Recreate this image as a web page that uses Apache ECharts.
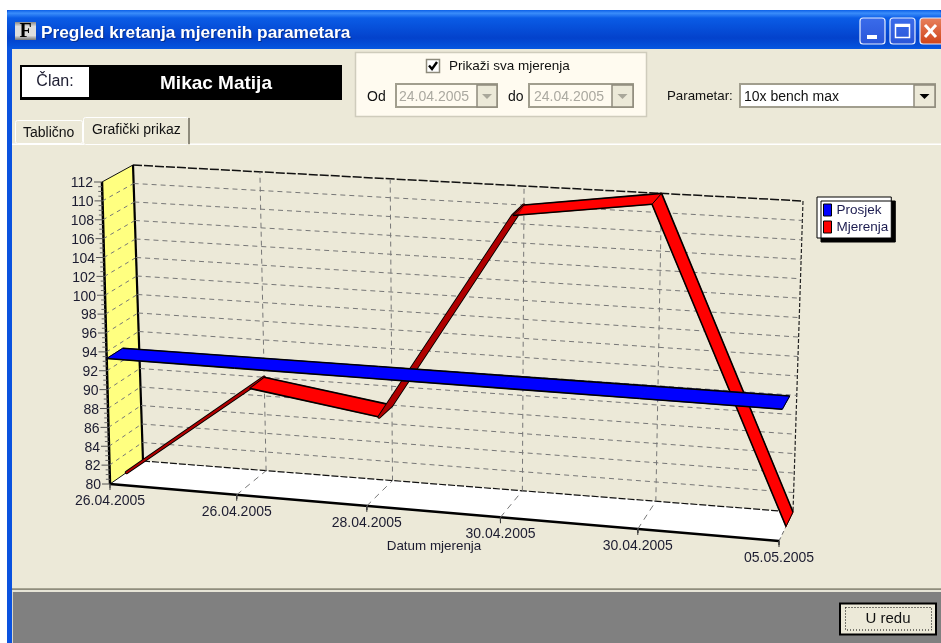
<!DOCTYPE html>
<html>
<head>
<meta charset="utf-8">
<style>
  html, body { margin: 0; padding: 0; background: #fff; }
  #chart { width: 941px; height: 643px; }
</style>
<script src="https://cdn.jsdelivr.net/npm/echarts@6/dist/echarts.min.js"></script>
</head>
<body>
<div id="chart"></div>
<script>
// podaci ocitani sa slike
var dates = ['26.04.2005', '26.04.2005', '28.04.2005', '30.04.2005', '30.04.2005', '05.05.2005'];
var measured = [80, 90, 88, 110, 112, 80];
var average = [93.3, 93.3, 93.3, 93.3, 93.3, 93.3];
var valueTicks = [80, 82, 84, 86, 88, 90, 92, 94, 96, 98, 100, 102, 104, 106, 108, 110, 112];
var backValueLines = [82, 84, 86, 88, 90, 92, 94, 96, 98, 100, 102, 104, 106, 108, 110];
var innerDates = [1, 2, 3, 4];
var minorTicks = [0.25, 0.5, 0.75];

var FONT = '"Liberation Sans", Arial, sans-serif';
var FACE = '#ECE9D8';

// uglovi kocke na ekranu (front/back, bottom/top, left/right)
var corners = {
	fbl: [110, 484], ftl: [102, 182], fbr: [779, 541], ftr: [787, 224],
	bbl: [143, 461], btl: [133, 165], bbr: [793, 512], btr: [803, 201]
};

function lerp(a, b, t) {
	return [a[0] + (b[0] - a[0]) * t, a[1] + (b[1] - a[1]) * t];
}

// u,v,w: 0..1 - sirina, visina, dubina
function project(u, v, w) {
	var s = u / (u + 1.07 * (1 - u)); // malo perspektive po x
	var front = lerp(lerp(corners.fbl, corners.fbr, s), lerp(corners.ftl, corners.ftr, s), v);
	var back = lerp(lerp(corners.bbl, corners.bbr, s), lerp(corners.btl, corners.btr, s), v);
	return lerp(front, back, w);
}

// vrijednost -> piksel kroz osi grida -> projekcija
function proj3(params, api, x, y, w) {
	var p = api.coord([x, y]);
	var cs = params.coordSys;
	return project((p[0] - cs.x) / cs.width, (cs.y + cs.height - p[1]) / cs.height, w);
}

function line(a, b, color, width, dash, z2) {
	return {
		type: 'line',
		z2: z2 || 0,
		shape: { x1: a[0], y1: a[1], x2: b[0], y2: b[1] },
		style: { stroke: color, lineWidth: width, lineDash: dash || null }
	};
}

function label(text, x, y, align, size) {
	return {
		type: 'text',
		z2: 5,
		style: { text: text, x: x, y: y, fill: '#1c1c30', font: (size || 14) + 'px ' + FONT, align: align, verticalAlign: 'middle' }
	};
}

function renderWalls(params, api) {
	var last = dates.length - 1, lo = valueTicks[0], hi = valueTicks[valueTicks.length - 1];
	var fbl = proj3(params, api, 0, lo, 0), ftl = proj3(params, api, 0, hi, 0);
	var bbl = proj3(params, api, 0, lo, 1), btl = proj3(params, api, 0, hi, 1);
	var fbr = proj3(params, api, last, lo, 0);
	var bbr = proj3(params, api, last, lo, 1), btr = proj3(params, api, last, hi, 1);
	return {
		type: 'group',
		children: [
			{ type: 'polygon', shape: { points: [ftl, btl, bbl, fbl] }, style: { fill: '#FFFF80' } },
			{ type: 'polygon', shape: { points: [fbl, bbl, bbr, fbr] }, style: { fill: '#FFFFFF' } },
			line(btl, btr, '#111', 1.5, [9, 2], 3),
			line(btr, bbr, '#222', 1.2, [4, 2], 3),
			line(bbl, bbr, '#111', 1.2, [7, 2], 3),
			line(fbr, bbr, '#666', 1, [4, 3], 3),
			line(ftl, btl, '#111', 1, null, 3),
			line(fbl, bbl, '#111', 1, null, 3),
			line(btl, bbl, '#000', 2.2, null, 4),
			line(ftl, fbl, '#000', 2.5, null, 4),
			line(fbl, fbr, '#000', 2.5, null, 4),
			label('Datum mjerenja', 434, 546, 'center', 13.4)
		]
	};
}

// vodoravne linije po zidovima + oznake na osi y
function renderValueTick(params, api) {
	var val = api.value(0), last = dates.length - 1;
	var f = proj3(params, api, 0, val, 0);
	var b = proj3(params, api, 0, val, 1);
	var r = proj3(params, api, last, val, 1);
	var kids = [
		line([f[0] - 8, f[1]], f, '#555', 1, null, 4),
		label(String(val), f[0] - 9, f[1] + 1.5, 'right', 14)
	];
	if (val < 112) {
		minorTicks.forEach(function (m) {
			var t = proj3(params, api, 0, val + m * 2, 0);
			kids.push(line([t[0] - 4, t[1]], t, '#666', 1, null, 4));
		});
	}
	if (backValueLines.indexOf(val) >= 0) {
		kids.push(line(f, b, '#777', 1, [4, 4], 2));
		kids.push(line(b, r, '#777', 1, [5, 4], 2));
	}
	return { type: 'group', children: kids };
}

// okomite linije, pod + oznake na osi x
function renderDateTick(params, api) {
	var i = api.value(0), lo = valueTicks[0], hi = valueTicks[valueTicks.length - 1];
	var f = proj3(params, api, i, lo, 0);
	var b = proj3(params, api, i, lo, 1);
	var t = proj3(params, api, i, hi, 1);
	var kids = [
		line(f, [f[0], f[1] + 6], '#333', 1, null, 4),
		label(dates[i], f[0], f[1] + 17, 'center', 14)
	];
	if (i < dates.length - 1) {
		minorTicks.forEach(function (m) {
			var p = proj3(params, api, i + m, lo, 0);
			kids.push(line(p, [p[0], p[1] + 4], '#444', 1, null, 4));
		});
	}
	if (innerDates.indexOf(i) >= 0) {
		kids.push(line(b, t, '#777', 1, [5, 4], 2));
		kids.push(line(f, b, '#777', 1, [6, 5], 2));
	}
	return { type: 'group', children: kids };
}

function ribbon(values, w0, w1, fill, darkFill) {
	return function (params, api) {
		var i = api.value(0);
		if (i === 0) return { type: 'group', children: [] };
		var a = values[i - 1], b = values[i];
		var p0 = proj3(params, api, i - 1, a, w0), p1 = proj3(params, api, i, b, w0);
		var q1 = proj3(params, api, i, b, w1), q0 = proj3(params, api, i - 1, a, w1);
		var pts = [p0, p1, q1, q0];
		var kids;
		if (b - a > 5) {
			// strmi dio se vidi odozdo, tamniji i tanak
			kids = [
				{ type: 'polygon', z2: 10, shape: { points: pts }, style: { fill: '#000', stroke: '#000', lineWidth: 3.4, lineJoin: 'round' } },
				{ type: 'polygon', z2: 11, shape: { points: pts }, style: { fill: darkFill, stroke: darkFill, lineWidth: 1.6, lineJoin: 'round' } }
			];
		} else {
			// stroke iste boje da se ne vide spojevi izmedu segmenata
			kids = [
				{ type: 'polygon', z2: 10, shape: { points: pts }, style: { fill: fill, stroke: fill, lineWidth: 1 } },
				line(p0, p1, '#000', 1.6, null, 11),
				line(q0, q1, '#000', 1.6, null, 11)
			];
			if (a !== b) kids.push(line(p0, q0, '#000', 1, null, 11));
		}
		if (i === 1 && a === b) kids.push(line(p0, q0, '#000', 1, null, 11));
		if (i === values.length - 1) kids.push(line(p1, q1, '#000', 1, null, 11));
		return { type: 'group', children: kids };
	};
}

// prozor oko grafa
function rect(x, y, w, h, fill, stroke, lw, r) {
	return {
		type: 'rect',
		shape: { x: x, y: y, width: w, height: h, r: r || 0 },
		style: { fill: fill, stroke: stroke || null, lineWidth: lw || 0 },
		silent: true
	};
}

function txt(text, x, y, size, fill, weight, align, family) {
	return {
		type: 'text',
		silent: true,
		style: {
			text: text, x: x, y: y, fill: fill,
			font: (weight || 'normal') + ' ' + size + 'px ' + (family || FONT),
			align: align || 'left', verticalAlign: 'middle'
		}
	};
}

function grad(stops) {
	return { type: 'linear', x: 0, y: 0, x2: 0, y2: 1, colorStops: stops.map(function (s) { return { offset: s[0], color: s[1] }; }) };
}

function sunken(x, y, w, h, fill) {
	return [
		rect(x + 1, y + 1, w - 2, h - 2, fill, '#A19E8E', 2)
	];
}

function comboButton(x, y, w, h, arrow) {
	return [
		rect(x, y, w, h, FACE, '#8E8B7C', 1.5),
		{ type: 'polygon', silent: true, shape: { points: [[x + w / 2 - 5, y + h / 2 - 2], [x + w / 2 + 5, y + h / 2 - 2], [x + w / 2, y + h / 2 + 3]] }, style: { fill: arrow } }
	];
}

function winButton(x, w, fill) {
	return rect(x, 18, w, 26, fill, '#E6EEFF', 1.2, 3);
}

var chrome = [
	rect(0, 0, 941, 643, '#FFFFFF'),
	rect(7, 10, 934, 633, '#0A52DF'),
	rect(7, 10, 934, 40, grad([[0, '#0B5FE8'], [0.08, '#3A8DFA'], [0.2, '#0A5CE6'], [0.7, '#0342CC'], [0.9, '#0450DA'], [1, '#0A5AE2']]), null, 0, 4),
	rect(12, 49, 929, 594, FACE),
	rect(12, 588, 929, 1, '#A6A492'),
	rect(12, 589, 929, 1, '#8F8D7D'),
	rect(12, 590, 929, 2, '#E6E4D6'),
	rect(13, 592, 928, 51, '#808080'),
	rect(12, 592, 1, 51, '#D9D7CA'),

	// title bar
	rect(15, 22, 21, 18, grad([[0, '#888'], [0.25, '#ddd'], [0.75, '#ddd'], [1, '#777']])),
	txt('F', 25.5, 31.5, 20, '#000', 'bold', 'center', '"Liberation Serif", serif'),
	txt('Pregled kretanja mjerenih parametara', 42, 34, 17.3, '#06308f', 'bold'),
	txt('Pregled kretanja mjerenih parametara', 41, 33, 17.3, '#FFFFFF', 'bold'),
	winButton(860, 25, grad([[0, '#3A6CEB'], [1, '#2A55D8']])),
	rect(867, 35, 10, 4, '#FFFFFF'),
	winButton(890, 25, grad([[0, '#3A6CEB'], [1, '#2A55D8']])),
	rect(895.5, 24.5, 14, 13, null, '#FFFFFF', 1.5),
	rect(895, 24, 15, 3, '#FFFFFF'),
	winButton(920, 26, grad([[0, '#E8825F'], [1, '#CF4318']])),
	line([925, 25], [936, 37], '#FFFFFF', 3),
	line([936, 25], [925, 37], '#FFFFFF', 3),

	// clan
	rect(20, 65, 322, 35, '#000000'),
	rect(22, 67, 67, 30, '#FFFFFF'),
	txt('Član:', 55, 82, 16, '#1c1c30', 'normal', 'center'),
	txt('Mikac Matija', 216, 83.5, 19, '#FFFFFF', 'bold', 'center'),

	// panel s datumima
	rect(355.5, 52.5, 291, 64, '#FFFBF0', '#CFCCBC', 1.5),
	rect(426.5, 59.5, 13, 13, '#FFFFFF', '#8E8B7C', 1.5),
	{ type: 'polyline', silent: true, shape: { points: [[429, 65.5], [432, 69], [437, 62]] }, style: { stroke: '#000', lineWidth: 2.4, fill: null } },
	txt('Prikaži sva mjerenja', 449, 66, 13.5, '#111'),
	txt('Od', 367, 97, 14, '#111')
].concat(
	sunken(395, 83, 103, 25, '#FFFBF0'),
	[txt('24.04.2005', 399, 97, 14, '#ABA9A0')],
	comboButton(477, 85, 20, 22, '#A9A79A'),
	[txt('do', 508, 97, 14, '#111')],
	sunken(528, 83, 106, 25, '#FFFBF0'),
	[txt('24.04.2005', 534, 97, 14, '#ABA9A0')],
	comboButton(612, 85, 21, 22, '#A9A79A'),
	[txt('Parametar:', 667, 96, 13.3, '#111')],
	sunken(739, 83, 197, 25, '#FFFFFF'),
	[txt('10x bench max', 744, 97, 14, '#111')],
	comboButton(914, 85, 21, 22, '#000'),
	[
		// tabovi
		rect(190, 143.5, 751, 1.5, '#FFFFFF'),
		rect(12, 143.5, 72, 1.5, '#FFFFFF'),
		rect(15.5, 120.5, 67, 23, FACE, '#FFFFFF', 1, 2),
		rect(83.5, 117.5, 105, 27, FACE, '#FFFFFF', 1, 2),
		rect(188, 118, 2, 26, '#8E8B7C'),
		txt('Tablično', 23, 133, 14, '#111'),
		txt('Grafički prikaz', 92, 130, 14, '#111'),

		// dugme
		rect(840, 603.5, 96, 31, FACE, '#000', 2),
		rect(845.5, 607.5, 86, 22.5, null, '#000', 1),
		txt('U redu', 888, 618.5, 15, '#111', 'normal', 'center')
	]
);
chrome[chrome.length - 2].style.lineDash = [1, 2];

var myChart = echarts.init(document.getElementById('chart'), null, { renderer: 'canvas' });
var idx = dates.map(function (d, i) { return [i]; });

var option = {
	animation: false,
	graphic: { elements: chrome.map(function (el) { el.z = -10; el.zlevel = 0; return el; }) },
	grid: { left: 100, top: 180, width: 700, height: 300, show: false },
	xAxis: { type: 'category', data: dates, boundaryGap: false, show: false },
	yAxis: { type: 'value', min: 80, max: 112, interval: 2, show: false },
	legend: {
		data: ['Prosjek', 'Mjerenja'],
		left: 817,
		top: 197,
		orient: 'vertical',
		padding: [6, 3, 4, 6],
		itemGap: 3,
		itemWidth: 8,
		itemHeight: 12,
		icon: 'rect',
		backgroundColor: '#FFFFFF',
		borderColor: '#000',
		borderWidth: 1,
		borderRadius: 0,
		shadowColor: '#000',
		shadowBlur: 0,
		shadowOffsetX: 4,
		shadowOffsetY: 4,
		selectedMode: false,
		itemStyle: { borderColor: '#000', borderWidth: 1 },
		textStyle: { fontFamily: FONT, fontSize: 13.5, color: '#1c1c50', padding: [0, 0, 0, 0] }
	},
	tooltip: { show: false },
	series: [
		{ type: 'custom', name: 'walls', silent: true, clip: false, z: 1, data: [[0]], renderItem: renderWalls },
		{ type: 'custom', name: 'valueTicks', silent: true, clip: false, z: 2, data: valueTicks.map(function (v) { return [v]; }), renderItem: renderValueTick },
		{ type: 'custom', name: 'dateTicks', silent: true, clip: false, z: 2, data: idx, renderItem: renderDateTick },
		{
			type: 'custom', name: 'Mjerenja', silent: true, clip: false, z: 3,
			itemStyle: { color: '#FF0000' },
			data: idx,
			renderItem: ribbon(measured, 0.5, 1, '#FF0000', '#B00000')
		},
		{
			type: 'custom', name: 'Prosjek', silent: true, clip: false, z: 4,
			itemStyle: { color: '#0000FF' },
			data: idx,
			renderItem: ribbon(average, 0, 0.5, '#0000FF', '#0000FF')
		}
	]
};
myChart.setOption(option);
</script>
</body>
</html>
